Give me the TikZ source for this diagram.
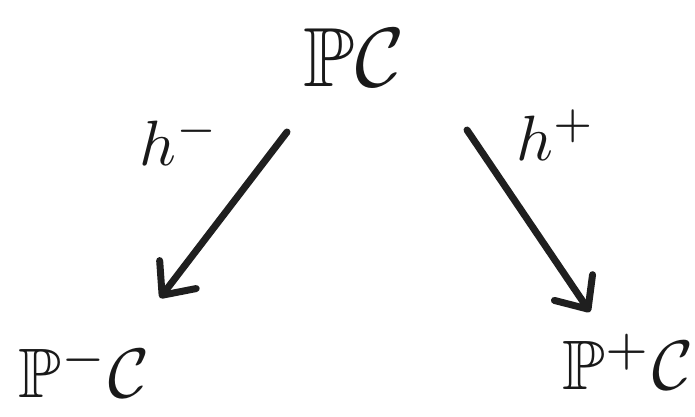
\documentclass[tikz,border=0pt]{standalone}
\usepackage{amssymb}
\usetikzlibrary{arrows.meta}
\tikzset{
  ink/.style={draw=black!88, line width=7pt, line cap=round, line join=round},
  objlabel/.style={inner sep=0pt, text=black!90},
  maplabel/.style={inner sep=0pt, text=black!90},
  barb/.style={-{Straight Barb[length=26pt, width=46pt, line cap=round, line join=round]}}
}
\newcommand{\bigobj}[1]{\scalebox{8.4}{$#1$}}
\newcommand{\sideobj}[1]{\scalebox{7.0}{$#1$}}
\newcommand{\bigmap}[1]{\scalebox{6.4}{$#1$}}
\begin{document}
\begin{tikzpicture}[x=1pt, y=-1pt]
  \useasboundingbox (0,0) rectangle (695,416);
  % objects
  \node[objlabel] (top) at (354,58) {\bigobj{\mathbb{P}\mathcal{C}}};
  \node[objlabel] (lft) at (84,370) {\sideobj{\mathbb{P}^{-}\mathcal{C}}};
  \node[objlabel] (rgt) at (628,362) {\sideobj{\mathbb{P}^{+}\mathcal{C}}};
  % arrow end points
  \coordinate (ls) at (287,132);
  \coordinate (le) at (160,298);
  \coordinate (rs) at (467,130);
  \coordinate (re) at (590,312);
  % maps
  \draw[ink, barb] (ls) -- (le);
  \draw[ink, barb] (rs) -- (re);
  \node[maplabel] (hm) at (180,140) {\bigmap{h^{-}}};
  \node[maplabel] (hp) at (556,135) {\bigmap{h^{+}}};
\end{tikzpicture}
\end{document}
